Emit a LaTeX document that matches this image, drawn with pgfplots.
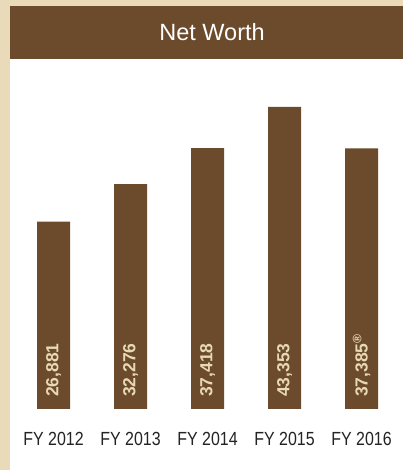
\documentclass[border=0pt]{standalone}
\usepackage{pgfplots}
\pgfplotsset{compat=1.18}
\usepackage{fontspec}
\setmainfont{Liberation Sans}
\newfontfamily\narrowfont[FakeStretch=0.84]{Liberation Sans}
\definecolor{nwbrown}{RGB}{107,75,43}
\definecolor{nwbeige}{RGB}{233,218,185}
\definecolor{nwlabel}{RGB}{232,216,180}
\definecolor{nwtext}{RGB}{35,35,35}
\begin{document}
\begin{tikzpicture}
\path[use as bounding box] (0,0) rectangle (403pt,470pt);
\fill[nwbeige] (0,0) rectangle (403pt,470pt);
\fill[white] (10pt,0) rectangle (403pt,411pt);
\fill[nwbrown] (10pt,411pt) rectangle (403pt,464pt);
\node[text=white, font=\fontsize{23.5}{26}\selectfont] at (212pt,437.5pt) {Net Worth};
\begin{axis}[
    at={(10pt,61pt)}, anchor=south west,
    scale only axis, width=393pt, height=350pt,
    xmin=-0.565, xmax=4.539, ymin=0, ymax=50215,
    axis line style={draw=none},
    ytick=\empty,
    xtick={0,1,2,3,4},
    xticklabels={FY 2012,FY 2013,FY 2014,FY 2015,FY 2016},
    major tick length=0pt,
    xticklabel style={anchor=north, inner sep=0pt, yshift=-23pt,
        text=nwtext, font=\narrowfont\fontsize{19}{22}\selectfont},
    clip=false,
]
\addplot[ybar, fill=nwbrown, draw=none, bar width=33pt]
    coordinates {(0,26881) (1,32276) (2,37418) (3,43353) (4,37385)};
\addplot[draw=none, mark=none, point meta=explicit symbolic,
    nodes near coords,
    nodes near coords style={rotate=90, anchor=west, inner sep=0pt,
        text=nwlabel, font=\bfseries\fontsize{17.5}{20}\selectfont}]
    coordinates {(0,1700) [26,881] (1,1700) [32,276] (2,1700) [37,418]
                 (3,1700) [43,353] (4,1700) [37,385\textsuperscript{\textregistered}]};
\end{axis}
\end{tikzpicture}
\end{document}
